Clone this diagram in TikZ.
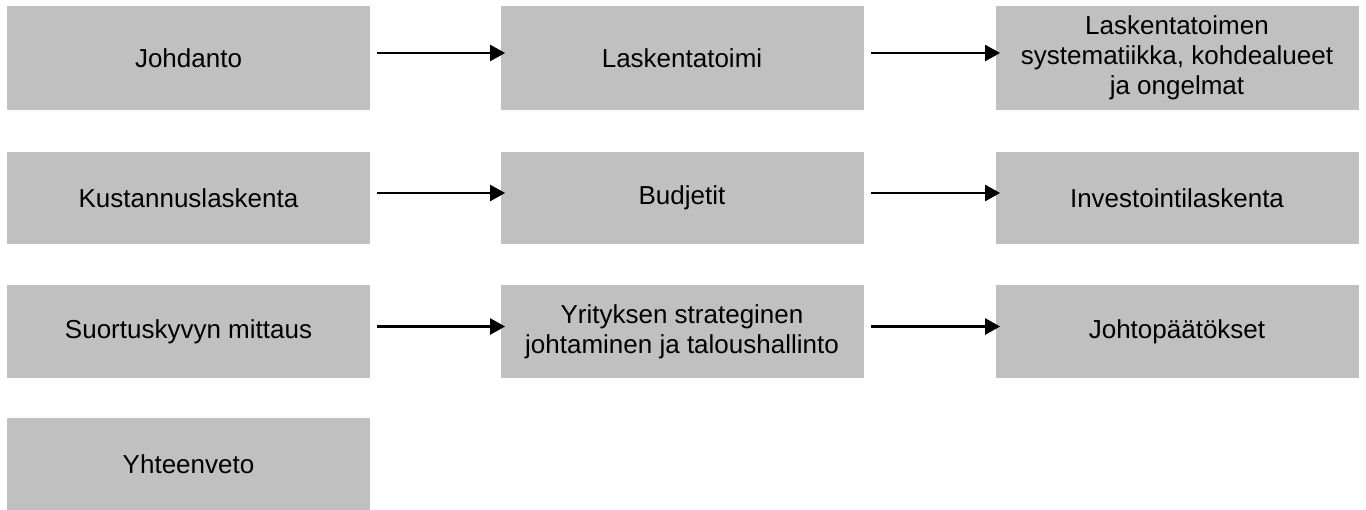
\documentclass[tikz,border=0pt]{standalone}
\usepackage{fontspec}
\setmainfont{Liberation Sans}
\usetikzlibrary{arrows.meta}
\definecolor{boxgray}{RGB}{192,192,192}
\tikzset{
  chapter/.style={rectangle, fill=boxgray, inner sep=0pt, align=center,
    minimum width=181.5pt, font=\fontsize{13}{15}\selectfont},
  flow/.style={-{Triangle[length=7.5pt,width=8pt]}, line width=1.2pt}
}
\begin{document}
\begin{tikzpicture}[x=0.5pt,y=-0.5pt]
  \useasboundingbox (0,0) rectangle (1366,509);
  \node[chapter, minimum height=52pt] (c1) at (188.5,58)   {Johdanto};
  \node[chapter, minimum height=52pt] (c2) at (682,58)     {Laskentatoimi};
  \node[chapter, minimum height=52pt] (c3) at (1177,58)    {Laskentatoimen\\systematiikka, kohdealueet\\ja ongelmat};
  \node[chapter, minimum height=46pt] (c4) at (188.5,198)  {Kustannuslaskenta};
  \node[chapter, minimum height=46pt] (c5) at (682,198)    {Budjetit};
  \node[chapter, minimum height=46pt] (c6) at (1177,198)   {Investointilaskenta};
  \node[chapter, minimum height=46.5pt] (c7) at (188.5,331.5) {Suortuskyvyn mittaus};
  \node[chapter, minimum height=46.5pt] (c8) at (682,331.5)   {Yrityksen strateginen\\johtaminen ja taloushallinto};
  \node[chapter, minimum height=46.5pt] (c9) at (1177,331.5)  {Johtopäätökset};
  \node[chapter, minimum height=46pt] (c10) at (188.5,464)  {Yhteenveto};

  \def\list {c1/c2, c2/c3, c4/c5, c5/c6, c7/c8, c8/c9}  % arrows between chapters
  \foreach \u\v in \list
  {  \draw[flow] ([xshift=3.5pt,yshift=2.5pt]\u.east) -- ([xshift=2.5pt,yshift=2.5pt]\v.west);
  }
\end{tikzpicture}
\end{document}
